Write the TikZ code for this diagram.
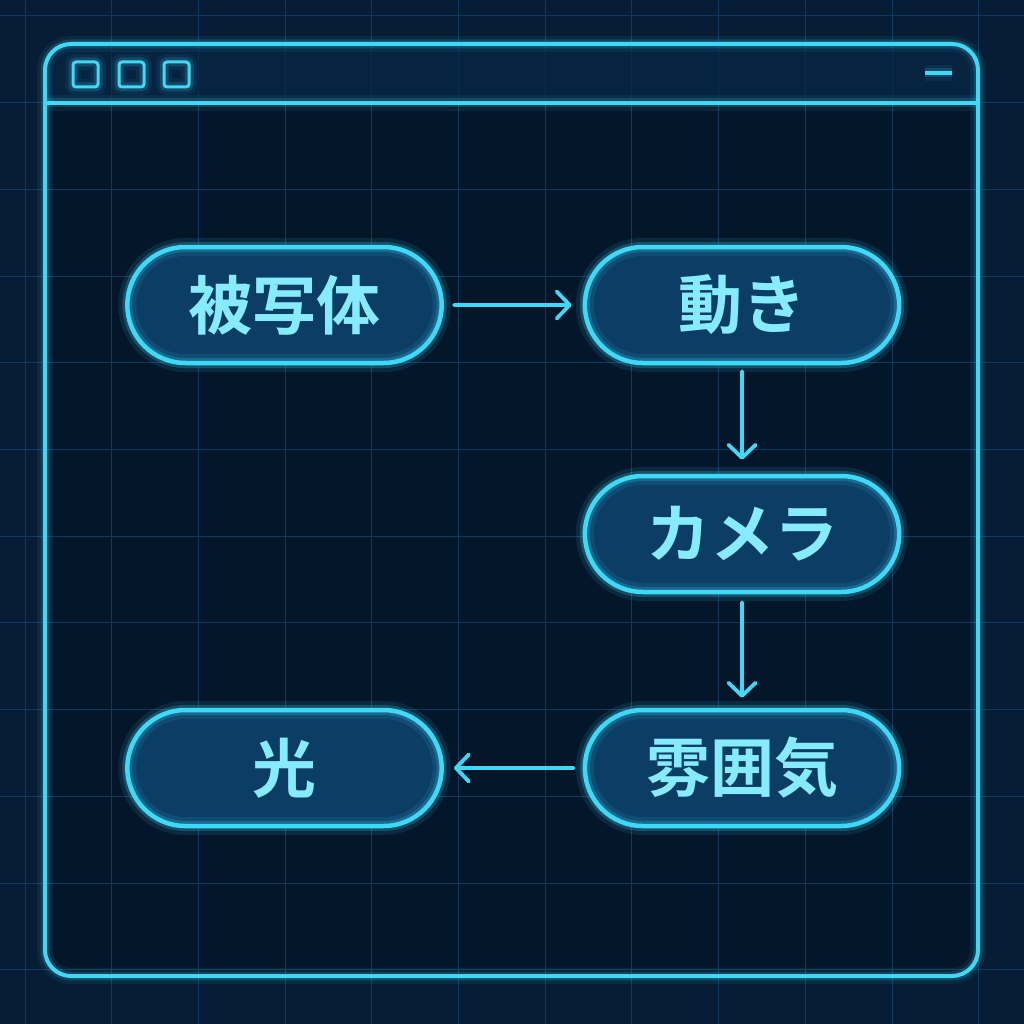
\documentclass[tikz,border=0pt]{standalone}
\usepackage{fontspec}
\newfontfamily\jpfont{Noto Sans CJK JP}[BoldFont={Noto Sans CJK JP Bold}]
\usepackage{tikz}
\usetikzlibrary{positioning}
\usetikzlibrary{arrows.meta}
\usetikzlibrary{shapes.misc}
\definecolor{bgouter}{HTML}{061D35}
\definecolor{winbody}{HTML}{04172A}
\definecolor{gridblue}{HTML}{103A5D}
\definecolor{neon}{HTML}{3FD9F8}
\definecolor{neontext}{HTML}{86ECFB}
\definecolor{pillfill}{HTML}{0B3D65}
\definecolor{barfill}{HTML}{07294A}
\tikzset{
  gridline/.style={gridblue, line width=1pt},
  glowline/.style={neon, line width=4pt,
    preaction={draw=neon, line width=16pt, opacity=0.07},
    preaction={draw=neon, line width=9pt, opacity=0.16}},
  pill/.style={rounded rectangle, minimum width=321pt, minimum height=116pt,
    preaction={fill=pillfill},
    preaction={draw=neon, line width=18pt, opacity=0.10},
    preaction={draw=neon, line width=10pt, opacity=0.22},
    draw=neon, line width=4.5pt, text=neontext,
    font=\jpfont\bfseries\fontsize{64}{70}\selectfont},
  flow/.style={neon, line width=3.8pt, line cap=round,
    -{Straight Barb[length=13pt,width=27pt,round]}}
}

\begin{document}
\begin{tikzpicture}[x=1pt,y=-1pt]
  \useasboundingbox (0,0) rectangle (1024,1024);
  \fill[bgouter] (0,0) rectangle (1024,1024);
  \fill[winbody, rounded corners=26pt] (45,44) rectangle (978,976);
  \foreach \k in {0,...,11}
    \draw[gridline] ({25+86.7*\k},0) -- ++(0,1024);
  \foreach \k in {0,...,11}
    \draw[gridline] (0,{16+86.7*\k}) -- ++(1024,0);

  \fill[barfill, opacity=0.7, rounded corners=26pt] (45,103) -- (45,44) -- (978,44) [sharp corners] -- (978,103) -- cycle;
  \draw[glowline, rounded corners=26pt] (45,44) rectangle (978,976);
  \draw[glowline] (45,103) -- (978,103);
  \foreach \x in {73,119,164}
    \draw[glowline, line width=3pt, rounded corners=3pt] (\x,62) rectangle ++(25,25);
  \draw[glowline, line width=4.5pt] (925,73) -- (952,73);

  \node[pill] (subject) at (284.5,305) {被写体};
  \node[pill] (motion)  at (742,305)   {動き};
  \node[pill] (camera)  at (742,534)   {カメラ};
  \node[pill] (mood)    at (742,768)   {雰囲気};
  \node[pill] (light)   at (284.5,768) {光};

  \draw[flow, shorten <=10pt, shorten >=11pt] (subject) -- (motion);
  \draw[flow, shorten <=6pt, shorten >=14pt] (motion) -- (camera);
  \draw[flow, shorten <=8pt, shorten >=10pt] (camera) -- (mood);
  \draw[flow, shorten <=9pt, shorten >=10pt] (mood) -- (light);
\end{tikzpicture}
\end{document}
